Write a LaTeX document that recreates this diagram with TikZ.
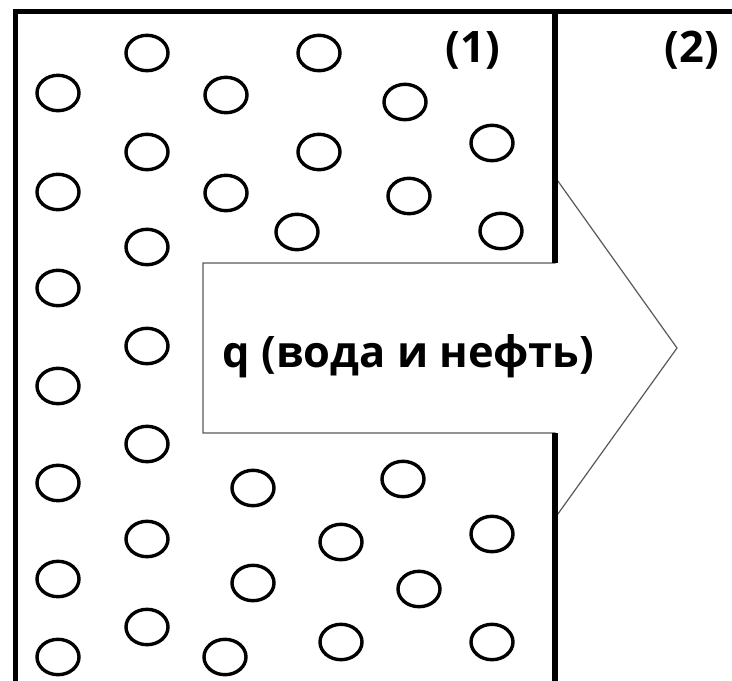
\documentclass[tikz,border=0pt]{standalone}
\usepackage{fontspec}
\setmainfont{Open Sans}
\tikzset{
  pore/.style={line width=3.4pt},
  wall/.style={line width=5pt, line join=miter},
  flow/.style={draw=black!65, line width=1.2pt, fill=white, line join=miter},
  lbl/.style={font=\bfseries\fontsize{43.4}{50}\selectfont, anchor=base, inner sep=0pt}
}
\begin{document}
\begin{tikzpicture}[x=1pt,y=-1pt]
\useasboundingbox (0,0) rectangle (732,681);
% flow arrow through the opening
\draw[flow] (203,263) -- (555,263) -- (555,177) -- (677,348) -- (555,518)
  -- (555,433) -- (203,433) -- cycle;
% outer walls and the partition with its opening
\draw[wall] (15.3,681) -- (15.3,11.7) -- (732,11.7);
\draw[wall, line width=6pt] (555,11.7) -- (555,263);
\draw[wall, line width=6pt] (555,433) -- (555,681);
% pores
\foreach \px/\py in {58/93, 58/192, 58/288, 58/386, 58/483, 58/579, 58/657,
  147/53, 147/152, 147/247, 147/346, 147/444, 147/539, 147/627,
  226/95, 226/193, 319/53, 319/152, 297/232, 405/102, 409/196,
  492/143, 501/231, 253/488, 253/583, 225/657, 341/542, 341/642,
  403/479, 419/589, 492/534, 492/642}
  \draw[pore] (\px,\py) ellipse [x radius=21pt, y radius=17.7pt];
% labels
\node[lbl] (q) at (408.5,367) {q (вода и нефть)};
\node[lbl] (z1) at (473,62) {(1)};
\node[lbl] (z2) at (692,62) {(2)};
\end{tikzpicture}
\end{document}
